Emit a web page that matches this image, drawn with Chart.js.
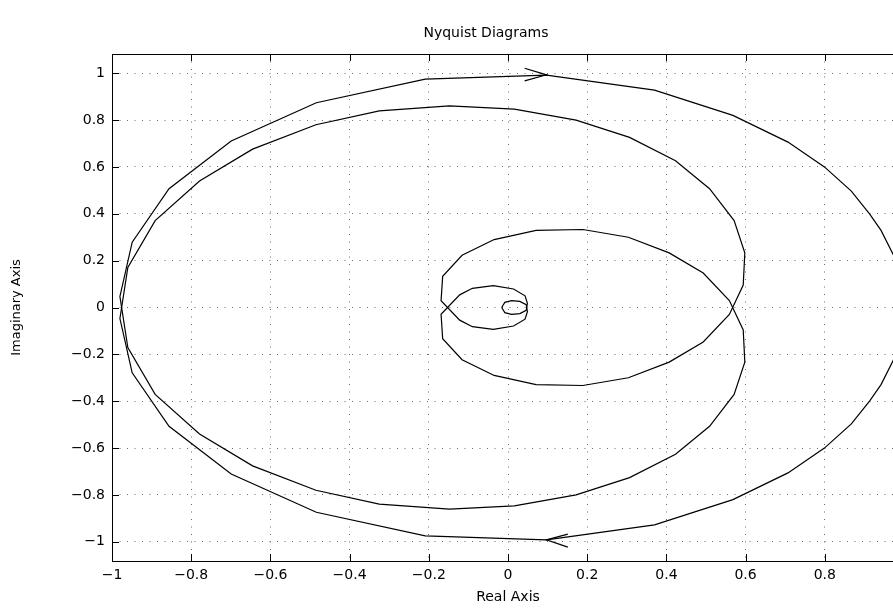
<!DOCTYPE html>
<html>
<head>
<meta charset="utf-8">
<title>Nyquist Diagrams</title>
<script src="https://cdn.jsdelivr.net/npm/chart.js@4.4.1/dist/chart.umd.min.js"></script>
<style>
  html, body { margin: 0; padding: 0; background: #fff; overflow: hidden; }
</style>
</head>
<body>
<canvas id="grafico" width="905" height="610"></canvas>
<script>
// Rama de frecuencias positivas (la de frecuencias negativas es su espejo)
const pX = [1.000, 0.993, 0.978, 0.942, 0.913, 0.867, 0.799, 0.707, 0.568, 0.370, 0.097, -0.209, -0.484, -0.699, -0.856, -0.949, -0.980,
            -0.960, -0.891, -0.779, -0.645, -0.485, -0.325, -0.148, 0.016, 0.172, 0.307, 0.423, 0.509, 0.571, 0.598, 0.594,
            0.559, 0.493, 0.407, 0.304, 0.189, 0.071, -0.035, -0.116, -0.165, -0.169,
            -0.122, -0.090, -0.037, 0.014, 0.043, 0.049,
            0.046, 0.030, 0.009, -0.008, -0.016];
const pY = [0.000, -0.120, -0.208, -0.329, -0.400, -0.497, -0.600, -0.706, -0.820, -0.928, -0.992, -0.975, -0.874, -0.711, -0.507, -0.279, -0.047,
            0.171, 0.371, 0.540, 0.676, 0.780, 0.839, 0.861, 0.847, 0.800, 0.726, 0.626, 0.507, 0.371, 0.233, 0.096,
            -0.030, -0.147, -0.233, -0.300, -0.333, -0.329, -0.290, -0.223, -0.133, -0.029,
            0.054, 0.082, 0.093, 0.079, 0.050, 0.018,
            -0.012, -0.026, -0.029, -0.022, 0.000];
// Rama de frecuencias negativas
const mY = [0.000, 0.120, 0.208, 0.329, 0.400, 0.497, 0.600, 0.706, 0.820, 0.928, 0.992, 0.975, 0.874, 0.711, 0.507, 0.279, 0.047,
            -0.171, -0.371, -0.540, -0.676, -0.780, -0.839, -0.861, -0.847, -0.800, -0.726, -0.626, -0.507, -0.371, -0.233, -0.096,
            0.030, 0.147, 0.233, 0.300, 0.333, 0.329, 0.290, 0.223, 0.133, 0.029,
            -0.054, -0.082, -0.093, -0.079, -0.050, -0.018,
            0.012, 0.026, 0.029, 0.022, 0.000];

// Flechas de direccion
const arrowUpX = [0.042, 0.097, 0.042];
const arrowUpY = [1.021, 0.993, 0.967];
const arrowDownX = [0.151, 0.097, 0.151];
const arrowDownY = [-0.967, -0.992, -1.023];

// Ejes
const xTicks = [-1, -0.8, -0.6, -0.4, -0.2, 0, 0.2, 0.4, 0.6, 0.8, 1];
const xTickLabels = ['\u22121', '\u22120.8', '\u22120.6', '\u22120.4', '\u22120.2', '0', '0.2', '0.4', '0.6', '0.8', '1'];
const yTicks = [-1, -0.8, -0.6, -0.4, -0.2, 0, 0.2, 0.4, 0.6, 0.8, 1];
const yTickLabels = ['\u22121', '\u22120.8', '\u22120.6', '\u22120.4', '\u22120.2', '0', '0.2', '0.4', '0.6', '0.8', '1'];

function puntos(xs, ys) {
    return xs.map((x, i) => ({ x: x, y: ys[i] }));
}

function serie(xs, ys) {
    return {
        data: puntos(xs, ys),
        showLine: true,
        borderColor: '#000',
        borderWidth: 1.2,
        pointRadius: 0,
        tension: 0,
        fill: false
    };
}

// Marco del estilo MATLAB: caja, marcas hacia adentro y titulo
const marco = {
    id: 'marco',
    afterDatasetsDraw(chart) {
        const ctx = chart.ctx;
        const a = chart.chartArea;
        const sx = chart.scales.x;
        const sy = chart.scales.y;
        ctx.save();
        ctx.strokeStyle = '#000';
        ctx.lineWidth = 1;
        ctx.beginPath();
        xTicks.forEach(v => {
            const px = Math.round(sx.getPixelForValue(v)) + 0.5;
            ctx.moveTo(px, a.bottom); ctx.lineTo(px, a.bottom - 7);
            ctx.moveTo(px, a.top); ctx.lineTo(px, a.top + 7);
        });
        yTicks.forEach(v => {
            const py = Math.round(sy.getPixelForValue(v)) + 0.5;
            ctx.moveTo(a.left, py); ctx.lineTo(a.left + 7, py);
            ctx.moveTo(a.right, py); ctx.lineTo(a.right - 7, py);
        });
        ctx.stroke();
        ctx.strokeRect(Math.round(a.left) + 0.5, Math.round(a.top) + 0.5, a.right - a.left, a.bottom - a.top);

        ctx.fillStyle = '#000';
        ctx.font = '14px "DejaVu Sans"';
        ctx.textAlign = 'center';
        ctx.textBaseline = 'middle';
        ctx.fillText('Nyquist Diagrams', 486, 33);
        ctx.restore();
    }
};

Chart.defaults.font.family = '"DejaVu Sans", sans-serif';
Chart.defaults.font.size = 14;
Chart.defaults.color = '#000';

const ctx = document.getElementById('grafico');
window.myChart = new Chart(ctx, {
    type: 'scatter',
    data: {
        datasets: [
            serie(pX, pY),
            serie(pX, mY),
            serie(arrowUpX, arrowUpY),
            serie(arrowDownX, arrowDownY)
        ]
    },
    options: {
        responsive: false,
        animation: false,
        layout: { padding: { left: 0, right: 1, top: 54, bottom: 0 } },
        plugins: {
            legend: { display: false },
            tooltip: { enabled: false }
        },
        scales: {
            x: {
                type: 'linear',
                min: -1,
                max: 1,
                afterBuildTicks: (s) => { s.ticks = xTicks.map(v => ({ value: v })); },
                afterFit: (s) => { s.height = 49; s.paddingLeft = 0; s.paddingRight = 0; },
                ticks: {
                    padding: 6,
                    maxRotation: 0,
                    autoSkip: false,
                    callback: (v, i) => xTickLabels[i]
                },
                grid: { color: '#6a6a6a', lineWidth: 1, drawTicks: false },
                border: { display: false, dash: [1, 6.5] },
                title: {
                    display: true,
                    text: 'Real Axis',
                    font: { size: 14 },
                    padding: { top: 0, bottom: 4 }
                }
            },
            y: {
                type: 'linear',
                min: -1.082,
                max: 1.082,
                afterBuildTicks: (s) => { s.ticks = yTicks.map(v => ({ value: v })); },
                afterFit: (s) => { s.width = 112; s.paddingTop = 0; s.paddingBottom = 0; },
                ticks: {
                    padding: 7,
                    autoSkip: false,
                    callback: (v, i) => yTickLabels[i]
                },
                grid: { color: '#6a6a6a', lineWidth: 1, drawTicks: false },
                border: { display: false, dash: [1, 6.5] },
                title: {
                    display: true,
                    text: 'Imaginary Axis',
                    font: { size: 13 },
                    padding: { top: 9, bottom: 0 }
                }
            }
        }
    },
    plugins: [marco]
});
</script>
</body>
</html>
